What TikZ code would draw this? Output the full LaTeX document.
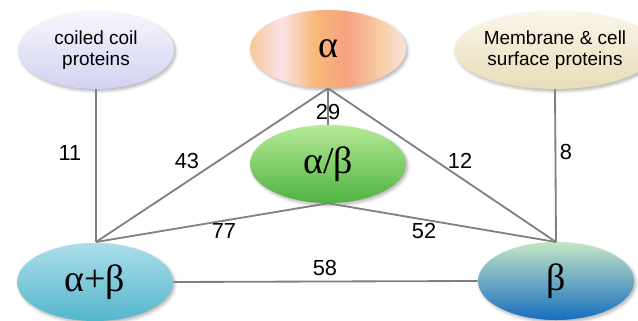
\documentclass[tikz,border=0pt]{standalone}
\usepackage{fontspec}
\setmainfont{Liberation Sans}
\newfontfamily\grk{Liberation Serif}
\usetikzlibrary{shapes.geometric,shadows.blur}
\definecolor{ao1}{RGB}{248,200,150}
\definecolor{ao2}{RGB}{250,226,232}
\definecolor{ao3}{RGB}{248,184,120}
\definecolor{ao4}{RGB}{244,162,128}
\definecolor{ao5}{RGB}{248,208,168}
\definecolor{ao6}{RGB}{250,226,220}
\pgfdeclarehorizontalshading{alphashade}{100bp}{color(0bp)=(ao1); color(25bp)=(ao1); color(35bp)=(ao2); color(46bp)=(ao3); color(56bp)=(ao4); color(67.5bp)=(ao5); color(75bp)=(ao6); color(100bp)=(ao6)}
\definecolor{linegray}{RGB}{128,128,128}
\tikzset{
  blob/.style={ellipse, minimum width=3.9cm, minimum height=1.95cm, inner sep=0pt, align=center,
    blur shadow={shadow blur steps=6, shadow xshift=1.2pt, shadow yshift=-1.5pt, shadow opacity=30}},
  txt/.style={font=\fontsize{13.5}{15}\selectfont},
  grktxt/.style={font=\grk\fontsize{27}{30}\selectfont},
  edge/.style={draw=linegray, line width=1.3pt},
  num/.style={font=\fontsize{15.5}{17}\selectfont, inner sep=0pt}
}
\begin{document}
\begin{tikzpicture}[x=0.025cm, y=-0.025cm]
\useasboundingbox (0,0) rectangle (638,321);
\node[blob, txt, top color={rgb,255:red,246;green,246;blue,255}, bottom color={rgb,255:red,210;green,210;blue,240}] (coil) at (96,50) {coiled coil\\proteins};
\node[blob, grktxt, shading=alphashade] (alpha) at (328,49) {α};
\node[blob, txt, top color={rgb,255:red,250;green,246;blue,234}, bottom color={rgb,255:red,232;green,220;blue,184}] (mem) at (555,50) {Membrane \& cell\\surface proteins};
\node[blob, grktxt, top color={rgb,255:red,182;green,234;blue,150}, bottom color={rgb,255:red,80;green,178;blue,64}] (ab) at (328,164) {α/β};
\node[blob, grktxt, top color={rgb,255:red,172;green,222;blue,234}, bottom color={rgb,255:red,84;green,182;blue,204}] (apb) at (95,282) {α+β};
\node[blob, grktxt, top color={rgb,255:red,196;green,230;blue,196}, middle color={rgb,255:red,110;green,174;blue,200}, bottom color={rgb,255:red,22;green,110;blue,192}] (beta) at (556,281) {β};
\coordinate (A) at (96,242);
\coordinate (B) at (556,242);
\draw[edge] (coil.south) -- (A);
\draw[edge] (A) -- (alpha.south);
\draw[edge] (alpha.south) -- (ab.north);
\draw[edge] (alpha.south) -- (B);
\draw[edge] (mem.south) -- (B);
\draw[edge] (A) -- (ab.south);
\draw[edge] (ab.south) -- (B);
\draw[edge] (apb.east) -- (beta.west);
\node[num] (n11) at (70,153) {11};
\node[num] (n43) at (187,161) {43};
\node[num] (n29) at (328,112) {29};
\node[num] (n12) at (460,161) {12};
\node[num] (n8) at (566,152) {8};
\node[num] (n77) at (224,231) {77};
\node[num] (n52) at (424,231) {52};
\node[num] (n58) at (325,268) {58};
\end{tikzpicture}
\end{document}
